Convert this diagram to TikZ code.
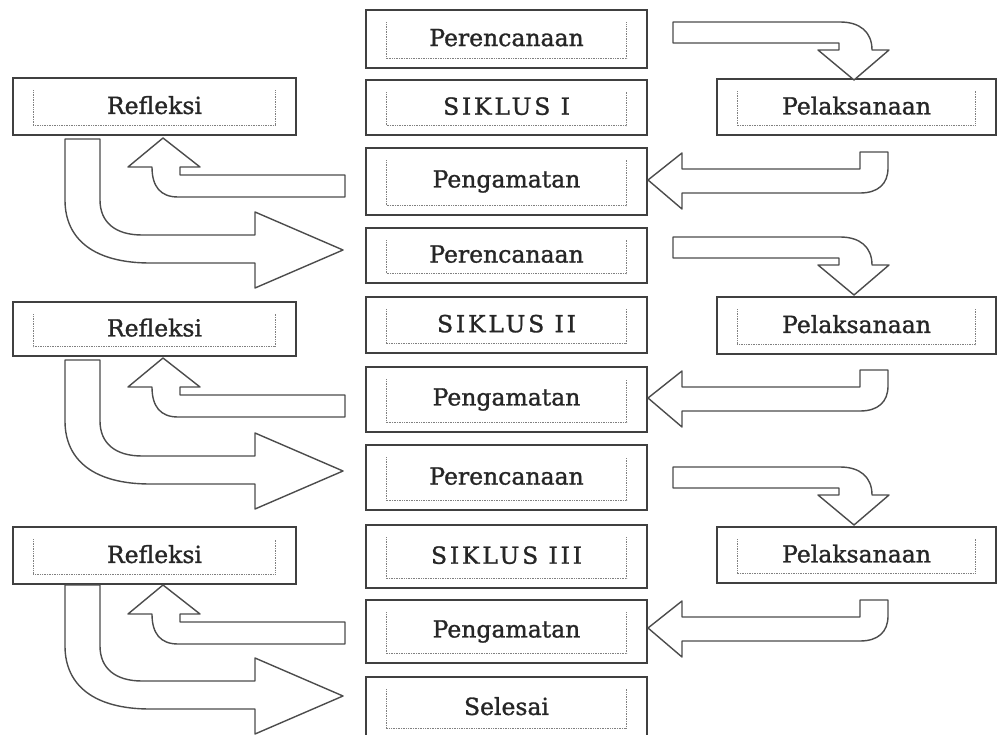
\documentclass[tikz,border=0pt]{standalone}
\usepackage{fontspec}
\setmainfont{DejaVu Serif}
\newfontfamily\lblfont[FakeBold=1.2]{DejaVu Serif}
\newcommand\mybox[6]{%
  \node[boxst, minimum width={#4-#2}, minimum height={#5-#3}] (#1) at ({(#2+#4)/2},{(#3+#5)/2}) {\raisebox{3pt}{#6}};
  \draw[innerdot] ([shift={(21pt,-13pt)}]#1.north west) -- ([shift={(21pt,10pt)}]#1.south west) -- ([shift={(-21pt,10pt)}]#1.south east) -- ([shift={(-21pt,-13pt)}]#1.north east);
}
\newcommand\sik[1]{{\addfontfeature{LetterSpace=12}#1}}
\newcommand\arrTR[1]{\draw[blockarrow, shift={(0,#1)}] (673,22) -- (840,22) .. controls (860,22) and (872,32) .. (872,50) -- (889,50) -- (854,80) -- (818,50) -- (839,50) -- (839,43) -- (673,43) -- cycle;}
\newcommand\arrRB[1]{\draw[blockarrow, shift={(0,#1)}] (648,180) -- (682,153) -- (682,169) -- (860,169) -- (860,152) -- (888,152) -- (888,168) .. controls (888,184) and (878,193) .. (860,193) -- (682,193) -- (682,209) -- cycle;}
\newcommand\arrLU[1]{\draw[blockarrow, shift={(0,#1)}] (345,175) -- (180,175) -- (180,167) -- (200,167) -- (163,138) -- (128,167) -- (152,167) .. controls (152,186) and (160,197) .. (178,197) -- (345,197) -- cycle;}
\newcommand\arrLB[1]{\draw[blockarrow, shift={(0,#1)}] (65,139) -- (100,139) -- (100,200) .. controls (100,222) and (115,235) .. (142,235) -- (255,235) -- (255,212) -- (343,250) -- (255,288) -- (255,263) -- (150,263) .. controls (95,263) and (65,240) .. (65,200) -- cycle;}
\begin{document}
\begin{tikzpicture}[x=1pt,y=-1pt,
  boxst/.style={draw=black!75, line width=1.6pt, fill=white, inner sep=0pt, font=\lblfont\fontsize{23.5}{26}\selectfont, text=black!85},
  innerdot/.style={draw=black!50, line width=0.7pt, densely dotted},
  blockarrow/.style={draw=black!70, line width=1.4pt, fill=white, line join=round}]
\useasboundingbox (0,0) rectangle (998,735);
\clip (0,0) rectangle (998,735);
\fill[white] (0,0) rectangle (998,735);
% centre column
\mybox{p1}{366}{10}{647}{68}{Perencanaan}
\mybox{s1}{366}{80}{647}{135}{\sik{SIKLUS I}}
\mybox{g1}{366}{148}{647}{215}{Pengamatan}
\mybox{p2}{366}{228}{647}{283}{Perencanaan}
\mybox{s2}{366}{297}{647}{353}{\sik{SIKLUS II}}
\mybox{g2}{366}{367}{647}{432}{Pengamatan}
\mybox{p3}{366}{445}{647}{510}{Perencanaan}
\mybox{s3}{366}{525}{647}{588}{\sik{SIKLUS III}}
\mybox{g3}{366}{600}{647}{663}{Pengamatan}
\mybox{sel}{366}{677}{647}{738}{Selesai}
% left column
\mybox{r1}{13}{78}{296}{135}{Refleksi}
\mybox{r2}{13}{302}{296}{356}{Refleksi}
\mybox{r3}{13}{527}{296}{584}{Refleksi}
% right column
\mybox{l1}{717}{79}{996}{135}{Pelaksanaan}
\mybox{l2}{717}{297}{996}{354}{Pelaksanaan}
\mybox{l3}{717}{527}{996}{583}{Pelaksanaan}
% block arrows
\arrTR{0}\arrRB{0}\arrLU{0}\arrLB{0}
\arrTR{215}\arrRB{218}\arrLU{220}\arrLB{221}
\arrTR{445}\arrRB{448}\arrLU{447}\arrLB{446}
\end{tikzpicture}
\end{document}
